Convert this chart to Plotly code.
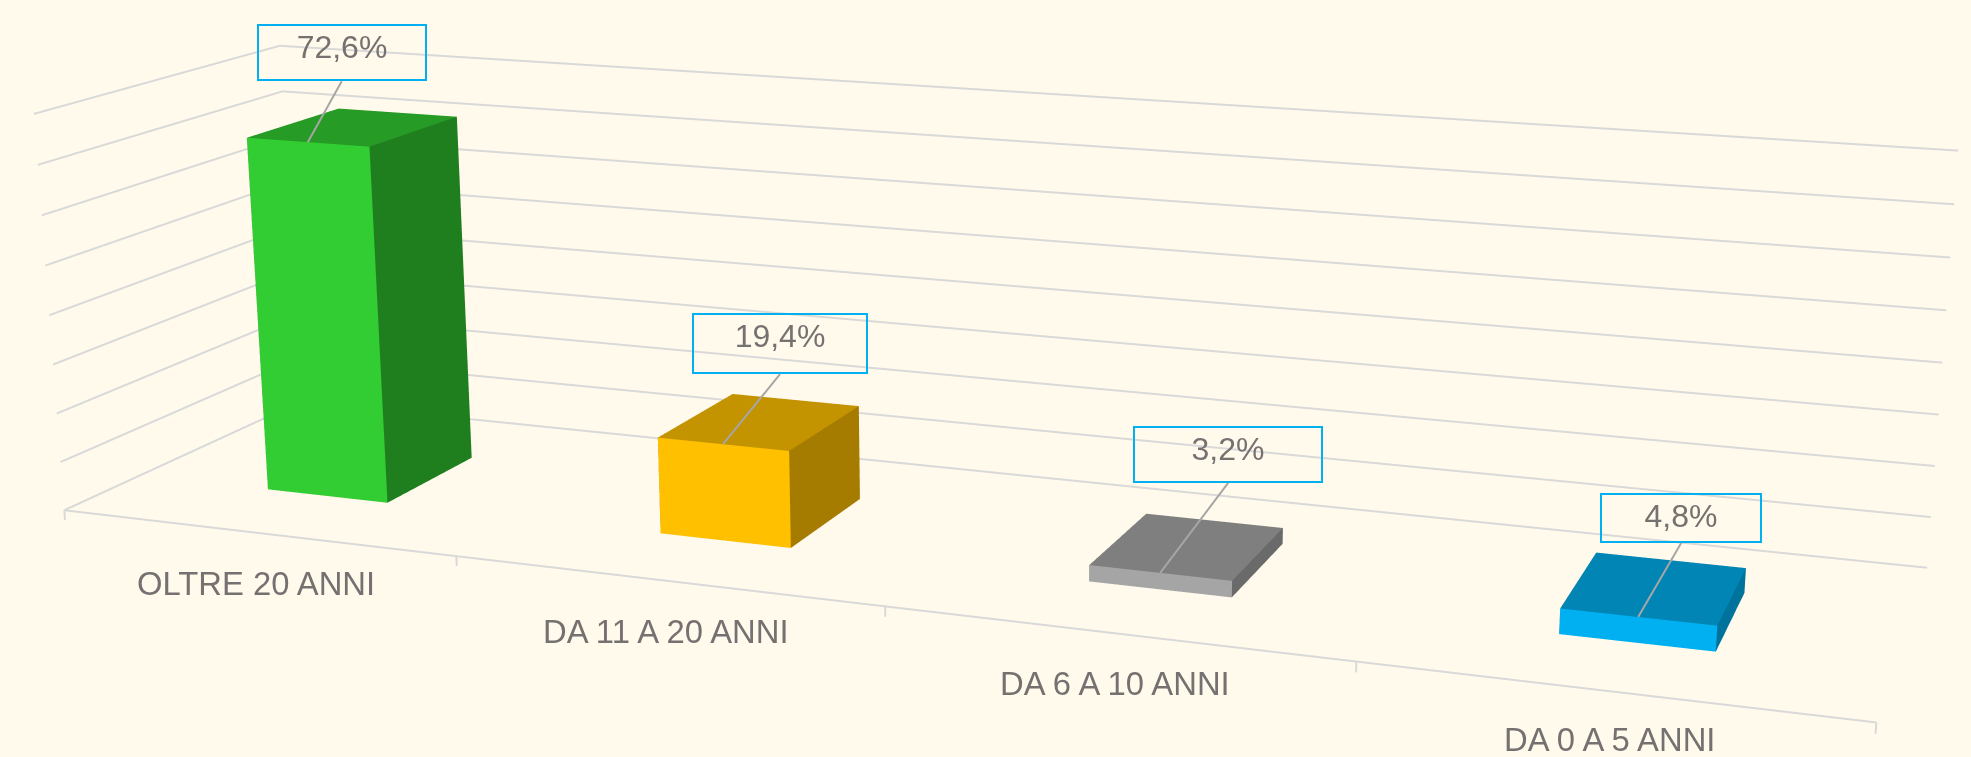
import math
import numpy as np
import plotly.graph_objects as go

categories = ["OLTRE 20 ANNI", "DA 11 A 20 ANNI", "DA 6 A 10 ANNI", "DA 0 A 5 ANNI"]
values = [72.6, 19.4, 3.2, 4.8]
labels = ["72,6%", "19,4%", "3,2%", "4,8%"]
z_ticks = [0, 10, 20, 30, 40, 50, 60, 70, 80]
x_ticks = [0, 1, 2, 3, 4]

face_front = ["#32CD32", "#FFC000", "#A5A5A5", "#00B0F0"]
face_top = ["#269B26", "#C49300", "#7F7F7F", "#0085B5"]
face_side = ["#1F7F1F", "#A67C00", "#6A6A6A", "#00739D"]

# Camera of the 3D chart (calibrated against the picture)
EYE_WORLD = (1.1267, -1.5352, 0.5562)   # floor front-left corner = origin, chart width = 1
AZIMUTH, PITCH, ROLL = 0.34638, 0.26491, -0.00045
FOCAL, CENTER_X, CENTER_Y = 3377.6, 1017.3, 406.9
DEPTH, HEIGHT = 0.2503, 0.2267
BAR_WIDTH, BAR_Y0, BAR_Y1 = 0.3135, 0.3001, 0.6940
XR, YR, ZR = (-0.02, 4.02), (-0.02, 1.02), (-2.0, 81.0)

F = np.array([-math.sin(AZIMUTH) * math.cos(PITCH), math.cos(AZIMUTH) * math.cos(PITCH), -math.sin(PITCH)])
r = np.array([math.cos(AZIMUTH), math.sin(AZIMUTH), 0.0])
u = np.array([-math.sin(AZIMUTH) * math.sin(PITCH), math.cos(AZIMUTH) * math.sin(PITCH), math.cos(PITCH)])
U = u * math.cos(ROLL) + r * math.sin(ROLL)

fig_h = 2 * FOCAL * math.tan(math.pi / 8)
fig_w = 2 * CENTER_X
top = fig_h / 2 - CENTER_Y
mid = np.array([sum(XR) / 2 / 4, sum(YR) / 2 * DEPTH, sum(ZR) / 2 / 80 * HEIGHT])
eye = np.array(EYE_WORLD) - mid
center = eye + 2 * F

fig = go.Figure()

gx, gy, gz = [], [], []
for t in z_ticks:
    gx += [0, 0, 4, None]; gy += [0, 1, 1, None]; gz += [t, t, t, None]
gx += [0, 4, None]; gy += [0, 0, None]; gz += [0, 0, None]
for t in x_ticks:
    gx += [t, t, None]; gy += [0, 0, None]; gz += [0, ZR[0], None]
fig.add_trace(go.Scatter3d(x=gx, y=gy, z=gz, mode="lines", line=dict(color="#D9D9D9", width=4),
                           hoverinfo="skip", showlegend=False))

tri = [(0,1,5),(0,5,4),(1,2,6),(1,6,5),(4,5,6),(4,6,7),(2,3,7),(2,7,6),(3,0,4),(3,4,7),(0,2,1),(0,3,2)]
for n, v in enumerate(values):
    x0, x1 = n + .5 - BAR_WIDTH / 2, n + .5 + BAR_WIDTH / 2
    y0, y1 = BAR_Y0, BAR_Y1
    fig.add_trace(go.Mesh3d(
        x=[x0, x1, x1, x0, x0, x1, x1, x0], y=[y0, y0, y1, y1, y0, y0, y1, y1], z=[0, 0, 0, 0, v, v, v, v],
        i=[t[0] for t in tri], j=[t[1] for t in tri], k=[t[2] for t in tri],
        facecolor=[face_front[n]] * 2 + [face_side[n]] * 2 + [face_top[n]] * 2 + [face_side[n]] * 6,
        flatshading=True, lighting=dict(ambient=1, diffuse=0, specular=0, fresnel=0, roughness=1),
        hoverinfo="skip", showscale=False))

ax_off = [34, 57, 68, 43]
ay_off = [-61, -70, -90, -74]
box_w = [170, 176, 190, 162]
box_h = [57, 61, 57, 50]
label_drop = [51, 51, 50, 48]
PAD, BORDER = 3, 2
TEXT = dict(family="Liberation Sans", color="#767171")
ann = []
for n, v in enumerate(values):
    ann.append(dict(x=n + .5, y=BAR_Y0, z=v, text=labels[n], showarrow=True, ax=ax_off[n], ay=ay_off[n],
                    arrowhead=0, arrowwidth=2, arrowcolor="#A6A6A6", xanchor="center", yanchor="bottom",
                    bordercolor="#00B0F0", borderwidth=BORDER, borderpad=PAD,
                    width=box_w[n] - 2 * (PAD + BORDER), height=box_h[n] - 2 * (PAD + BORDER),
                    valign="top", align="center", font=dict(TEXT, size=32)))
    ann.append(dict(x=n + .5, y=0, z=0, text=categories[n], showarrow=False, yshift=-label_drop[n],
                    font=dict(TEXT, size=32.8)))

axis = dict(showbackground=False, showgrid=False, zeroline=False, showticklabels=False, showspikes=False,
            showline=False, ticks="", title=dict(text=""))
fig.update_layout(
    width=fig_w, height=fig_h, margin=dict(l=0, r=0, t=0, b=0), paper_bgcolor="#FFFAEB", showlegend=False,
    scene=dict(
        domain=dict(x=[0, 1], y=[0, 1]), bgcolor="#FFFAEB", aspectmode="manual",
        aspectratio=dict(x=(XR[1] - XR[0]) / 4, y=(YR[1] - YR[0]) * DEPTH, z=(ZR[1] - ZR[0]) / 80 * HEIGHT),
        camera=dict(eye=dict(x=eye[0], y=eye[1], z=eye[2]), center=dict(x=center[0], y=center[1], z=center[2]),
                    up=dict(x=U[0], y=U[1], z=U[2]), projection=dict(type="perspective")),
        xaxis=dict(axis, range=list(XR)), yaxis=dict(axis, range=list(YR)), zaxis=dict(axis, range=list(ZR)),
        annotations=ann))

post = ("document.documentElement.style.overflow='hidden';document.body.style.overflow='hidden';"
        "document.body.style.margin='%.2fpx 0 0 0';document.documentElement.style.background='#FFFAEB';" % (-top))
fig.write_html("out.html", post_script=post)
